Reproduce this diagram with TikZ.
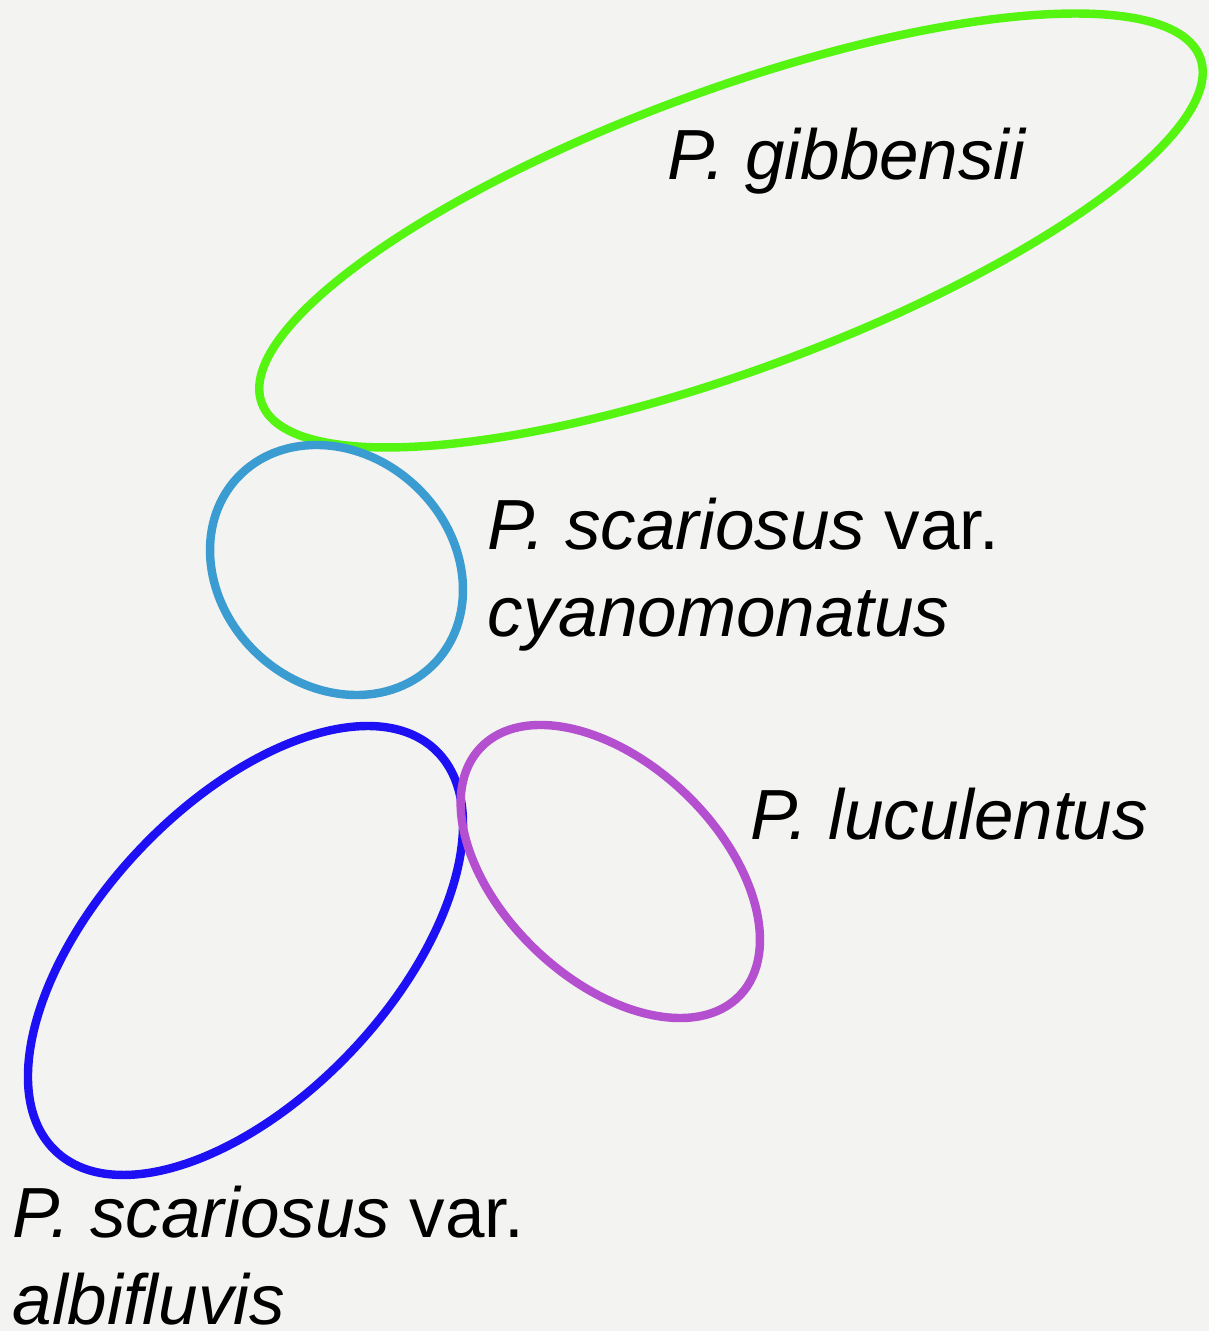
\documentclass[tikz,border=0pt]{standalone}
\usepackage{fontspec}
\setmainfont{Liberation Sans}
\usepackage{tikz}
\usetikzlibrary{positioning}
\definecolor{paper}{RGB}{243,243,241}
\definecolor{gibbgreen}{RGB}{85,245,17}
\definecolor{cyanblue}{RGB}{58,156,208}
\definecolor{albiblue}{RGB}{30,16,245}
\definecolor{luculpurple}{RGB}{180,79,207}

\tikzset{
  rangeline/.style={line width=2.4pt},
  taxon/.style={inner sep=0pt, align=left, font=\fontsize{20.2}{24.9}\selectfont}
}

\begin{document}
\begin{tikzpicture}
  \fill[paper] (0,0) rectangle (12.09,13.31);
  \useasboundingbox (0,0) rectangle (12.09,13.31);

  \draw[rangeline, gibbgreen]   (7.31,11.005) ellipse [x radius=5.00, y radius=1.40, rotate=20.2];
  \draw[rangeline, cyanblue]    (3.365,7.61)  ellipse [x radius=1.354, y radius=1.153, rotate=-42.9];
  \draw[rangeline, albiblue]    (2.455,3.805) ellipse [x radius=2.762, y radius=1.463, rotate=46.6];
  \draw[rangeline, luculpurple] (6.103,4.595) ellipse [x radius=1.793, y radius=1.082, rotate=-43.7];

  \node[taxon, anchor=base west] (gibb) at (6.67,11.51) {\textit{P. gibbensii}};
  \node[taxon, anchor=north west] (cyano) at (4.87,8.34) {\textit{P. scariosus} var.\\\textit{cyanomonatus}};
  \node[taxon, anchor=base west] (lucul) at (7.50,4.91) {\textit{P. luculentus}};
  \node[taxon, anchor=north west] (albi) at (0.12,1.46) {\textit{P. scariosus} var.\\\textit{albifluvis}};
\end{tikzpicture}
\end{document}
